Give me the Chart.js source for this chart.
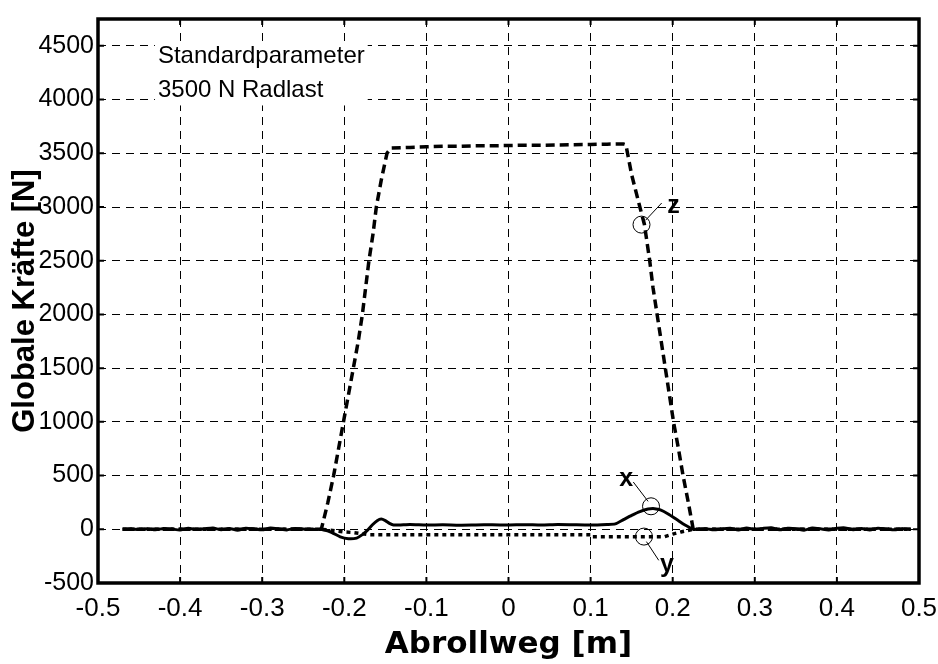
<!DOCTYPE html>
<html><head><meta charset="utf-8">
<script src="https://cdn.jsdelivr.net/npm/chart.js@4/dist/chart.umd.min.js"></script>
<style>html,body{margin:0;padding:0;background:#fff}</style>
</head><body>
<canvas id="c" width="938" height="664"></canvas>
<script>
// ---- data ----
const xTicks = [-0.5,-0.4,-0.3,-0.2,-0.1,0,0.1,0.2,0.3,0.4,0.5];
const yTicks = [-500,0,500,1000,1500,2000,2500,3000,3500,4000,4500];

// z (vertical force) – dashed
const zPos = [-0.47,-0.228,-0.22,-0.213,-0.207,-0.201,-0.195,-0.189,-0.183,-0.178,-0.174,-0.170,-0.165,-0.161,-0.155,-0.148,-0.143,
  -0.12,-0.10,-0.08,-0.06,-0.04,-0.02,0,0.02,0.04,0.06,0.08,0.10,0.12,0.14,0.143,
  0.150,0.155,0.160,0.1655,0.172,0.176,0.181,0.186,0.191,0.196,0.201,0.207,0.2126,0.219,0.225,0.49];
const zVal = [0,0,250,500,750,1000,1250,1500,1750,2000,2250,2500,2750,3000,3250,3500,3550,
  3555,3560,3565,3565,3570,3570,3572,3575,3575,3578,3580,3582,3585,3587,3580,
  3300,3150,3000,2840,2500,2250,2000,1750,1500,1250,1000,750,500,250,0,0];

// x (longitudinal force) – solid
const xPos = [-0.47,-0.46,-0.45,-0.44,-0.43,-0.42,-0.41,-0.40,-0.39,-0.38,-0.37,-0.36,-0.35,-0.34,-0.33,-0.32,-0.31,-0.30,-0.29,-0.28,-0.27,-0.26,-0.25,-0.24,-0.23,
  -0.225,-0.215,-0.205,-0.195,-0.185,-0.178,-0.172,-0.166,-0.160,-0.155,-0.150,-0.145,-0.140,
  -0.12,-0.10,-0.08,-0.06,-0.04,-0.02,0,0.02,0.04,0.06,0.08,0.10,0.12,0.13,0.14,0.15,0.16,0.17,0.178,0.185,0.195,0.205,0.215,0.225,
  0.23,0.24,0.25,0.26,0.27,0.28,0.29,0.30,0.31,0.32,0.33,0.34,0.35,0.36,0.37,0.38,0.39,0.40,0.41,0.42,0.43,0.44,0.45,0.46,0.47,0.48,0.49];
const xVal = [0,4,-3,6,-5,8,2,-6,10,-3,5,12,-4,7,-8,9,3,-5,11,4,-6,8,2,-3,0,
  -5,-30,-70,-88,-82,-50,-10,40,80,95,80,55,40,
  45,40,42,38,40,42,40,43,40,45,42,40,45,50,90,130,165,188,192,180,140,90,40,0,
  0,5,-4,3,9,-6,12,-3,8,14,-5,10,6,-8,11,4,-6,9,13,-4,7,-7,10,3,-5,6,0];

// y (lateral force) – dotted
const yPos = [-0.47,-0.23,-0.22,-0.21,-0.20,-0.19,-0.18,-0.17,-0.10,0,0.10,0.101,0.19,0.20,0.21,0.225,0.49];
const yVal = [0,0,-5,-15,-25,-30,-40,-50,-50,-50,-50,-70,-70,-45,-25,0,0];

const pts = (p, v) => p.map((x, i) => ({x, y: v[i]}));

// ---- annotations (placement in data units) ----
const noteLines = ['Standardparameter', '3500 N Radlast'];
const callouts = [
  {label:'z', cx:0.162, cy:2836, lx1:0.167, ly1:2877, lx2:0.1866, ly2:3037, tx:0.201, ty:3010},
  {label:'x', cx:0.1736, cy:214, lx1:0.170, ly1:260, lx2:0.152, ly2:440, tx:0.1434, ty:465},
  {label:'y', cx:0.165, cy:-68, lx1:0.168, ly1:-115, lx2:0.183, ly2:-289, tx:0.193, ty:-330}
];

const FONT = '"Liberation Sans", Arial, Helvetica, sans-serif';

const deco = {
  id: 'deco',
  afterDraw(chart) {
    const {ctx, chartArea: a, scales: {x, y}} = chart;
    ctx.save();
    // inner tick marks
    ctx.strokeStyle = '#000'; ctx.lineWidth = 2; ctx.setLineDash([]);
    xTicks.forEach(v => { const px = x.getPixelForValue(v);
      ctx.beginPath(); ctx.moveTo(px, a.bottom); ctx.lineTo(px, a.bottom - 6);
      ctx.moveTo(px, a.top); ctx.lineTo(px, a.top + 6); ctx.stroke(); });
    yTicks.forEach(v => { const py = y.getPixelForValue(v);
      ctx.beginPath(); ctx.moveTo(a.left, py); ctx.lineTo(a.left + 6, py);
      ctx.moveTo(a.right, py); ctx.lineTo(a.right - 6, py); ctx.stroke(); });
    // frame
    ctx.lineWidth = 3.5;
    ctx.strokeRect(a.left, a.top, a.right - a.left, a.bottom - a.top);
    // text note with white background
    ctx.font = '24px ' + FONT;
    const tx = x.getPixelForValue(-0.427), ty1 = y.getPixelForValue(4398), ty2 = y.getPixelForValue(4085);
    const w = Math.max(...noteLines.map(s => ctx.measureText(s).width));
    ctx.fillStyle = '#fff';
    ctx.fillRect(tx - 3, ty1 - 15, w + 6, ty2 - ty1 + 30);
    ctx.fillStyle = '#000'; ctx.textBaseline = 'middle'; ctx.textAlign = 'left';
    ctx.fillText(noteLines[0], tx, ty1);
    ctx.fillText(noteLines[1], tx, ty2);
    // callouts
    ctx.lineWidth = 1;
    callouts.forEach(c => {
      ctx.beginPath();
      ctx.arc(x.getPixelForValue(c.cx), y.getPixelForValue(c.cy), 8.5, 0, Math.PI * 2);
      ctx.stroke();
      ctx.beginPath();
      ctx.moveTo(x.getPixelForValue(c.lx1), y.getPixelForValue(c.ly1));
      ctx.lineTo(x.getPixelForValue(c.lx2), y.getPixelForValue(c.ly2));
      ctx.stroke();
      ctx.font = 'bold 25px ' + FONT; ctx.textAlign = 'center';
      ctx.fillText(c.label, x.getPixelForValue(c.tx), y.getPixelForValue(c.ty));
    });
    ctx.restore();
  }
};

const fmtX = v => { const r = Math.round(v * 10) / 10; return r === 0 ? '0' : String(r); };
const fmtY = v => String(Math.round(v));

new Chart(document.getElementById('c'), {
  type: 'scatter',
  data: { datasets: [
    {label:'y', data: pts(yPos, yVal), showLine:true, borderColor:'#000', borderWidth:3.5, borderDash:[4,4], pointRadius:0, tension:0},
    {label:'z', data: pts(zPos, zVal), showLine:true, borderColor:'#000', borderWidth:3.5, borderDash:[9,5], pointRadius:0, tension:0},
    {label:'x', data: pts(xPos, xVal), showLine:true, borderColor:'#000', borderWidth:3, pointRadius:0, tension:0.2}
  ]},
  options: {
    responsive: false, animation: false, devicePixelRatio: 1,
    layout: { padding: { top: 12, right: 19, left: 0, bottom: 0 } },
    plugins: { legend: {display:false}, tooltip: {enabled:false} },
    scales: {
      x: { type:'linear', min:-0.5, max:0.5,
        afterBuildTicks: s => { s.ticks = xTicks.map(v => ({value:v})); },
        afterFit: s => { s.height = 81; s.paddingRight = 0; s.paddingLeft = 0; },
        ticks: { callback: fmtX, color:'#000', font:{family:FONT, size:26}, padding:10, maxRotation:0, autoSkip:false },
        grid: { color:'#000', lineWidth:1, drawTicks:false },
        border: { display:false, dash:[8,6] },
        title: { display:true, text:'Abrollweg [m]', color:'#000', font:{family:'"DejaVu Sans", sans-serif', size:31, weight:'bold'}, padding:{top:0, bottom:0} } },
      y: { type:'linear', min:-500, max:4750,
        afterBuildTicks: s => { s.ticks = yTicks.map(v => ({value:v})); },
        afterFit: s => { s.width = 98; },
        ticks: { callback: fmtY, color:'#000', font:{family:FONT, size:25}, padding:4, autoSkip:false },
        grid: { color:'#000', lineWidth:1, drawTicks:false },
        border: { display:false, dash:[8,6] },
        title: { display:true, text:'Globale Kräfte [N]', color:'#000', font:{family:FONT, size:31, weight:'bold'}, padding:{top:7, bottom:0} } }
    }
  },
  plugins: [deco]
});
</script>
</body></html>
